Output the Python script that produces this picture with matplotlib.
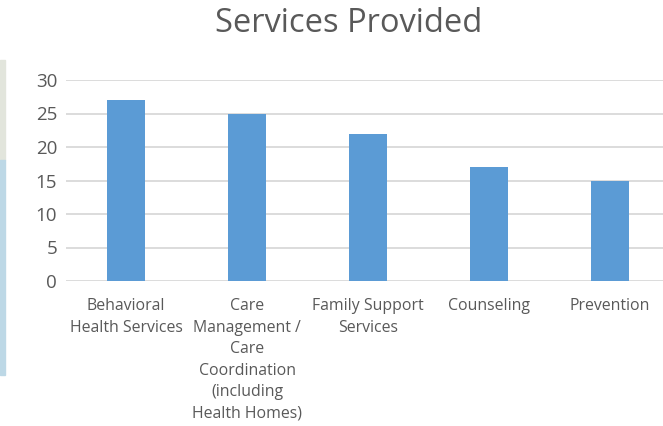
import matplotlib.pyplot as plt
from matplotlib.patches import Rectangle

categories = [
    "Behavioral\nHealth Services",
    "Care\nManagement /\nCare\nCoordination\n(including\nHealth Homes)",
    "Family Support\nServices",
    "Counseling",
    "Prevention",
]
counts = [27, 25, 22, 17, 15]
y_ticks = [0, 5, 10, 15, 20, 25, 30]

BAR = "#5B9BD5"
GRID = "#D9D9D9"
TEXT = "#595959"

plt.rcParams["font.family"] = ["Open Sans", "DejaVu Sans"]

W, H = 663, 426
fig = plt.figure(figsize=(W / 100, H / 100), dpi=100)

# plot area runs slightly past the right edge of the canvas
ax = fig.add_axes([65.5 / W, 145 / H, 605 / W, 201 / H])
x = range(len(categories))
ax.bar(x, counts, width=0.314, color=BAR, zorder=3)
ax.set_xlim(-0.5, len(categories) - 0.5)
ax.set_ylim(0, 30)
ax.set_yticks(y_ticks)
ax.set_xticks(list(x))
ax.set_xticklabels(categories, fontsize=11.4, color=TEXT, linespacing=1.46)
ax.tick_params(axis="y", labelsize=13.5, colors=TEXT, length=0, pad=6)
ax.tick_params(axis="x", length=0, pad=12.5)
ax.grid(axis="y", color=GRID, linewidth=1.3, zorder=0)
for side in ax.spines.values():
    side.set_visible(False)

fig.text(349 / W, 1 - 23 / H, "Services Provided", ha="center", va="center",
         fontsize=23.5, color=TEXT)

# slice of background picture along the left edge
fig.patches.append(Rectangle((0, 1 - 160 / H), 5 / W, 100 / H, transform=fig.transFigure,
                             color="#E2E5DC", zorder=0))
fig.patches.append(Rectangle((0, 1 - 375 / H), 5 / W, 215 / H, transform=fig.transFigure,
                             color="#BDD8E6", zorder=0))

fig.savefig("out.png", dpi=100)
